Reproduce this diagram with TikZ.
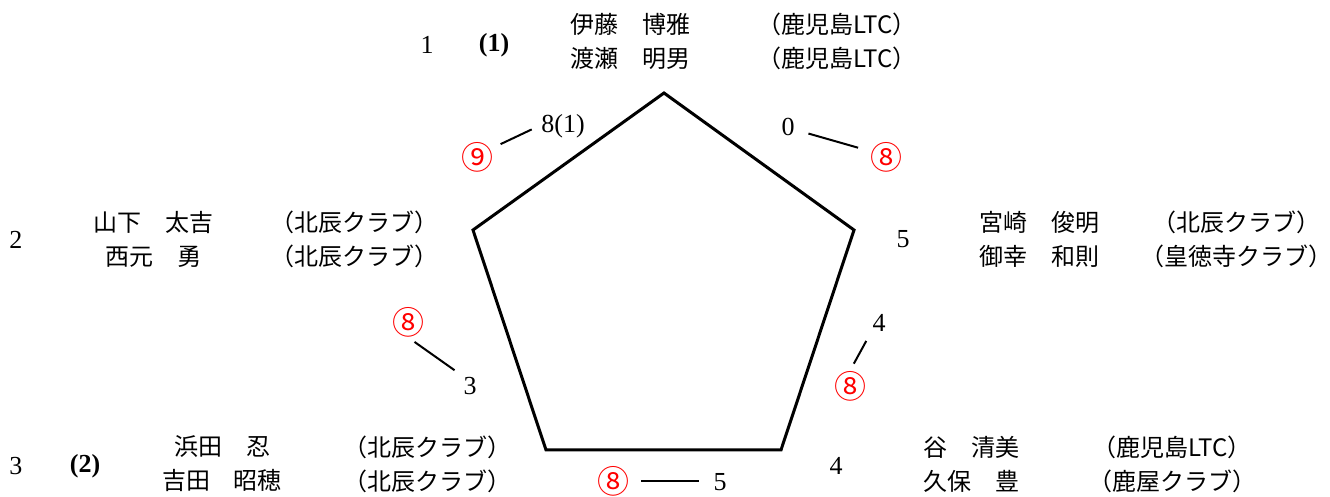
\documentclass[tikz,border=0pt]{standalone}
\usepackage{fontspec}
\setmainfont{Liberation Serif}
\newfontfamily\jpfont{Noto Sans CJK JP}
\tikzset{
  score/.style={font=\fontsize{13}{15}\selectfont, inner sep=1pt},
  seed/.style={font=\bfseries\fontsize{13}{15}\selectfont, inner sep=1pt},
  place/.style={text=red, font=\jpfont\fontsize{16}{18}\selectfont, inner sep=0pt},
  player/.style={font=\jpfont\fontsize{12}{17}\selectfont, align=center, inner sep=0pt},
  link/.style={line width=1pt, shorten >=4pt, shorten <=4pt},
}
\begin{document}
\begin{tikzpicture}[x=0.5pt,y=-0.5pt]
    \useasboundingbox (0,0) rectangle (1330,497);
    %% Pentagon
    \coordinate (p1) at (664,93);
    \coordinate (p2) at (473,230);
    \coordinate (p3) at (546,450);
    \coordinate (p4) at (781,450);
    \coordinate (p5) at (854,230);
    \draw[line width=1.5pt] (p1) -- (p5) -- (p4) -- (p3) -- (p2) -- cycle;
    %% Teams
    \node[score] (n1) at (427,45) {1};
    \node[score] (n2) at (16,240) {2};
    \node[score] (n3) at (16,466) {3};
    \node[seed] (d1) at (494,45) {(1)};
    \node[seed] (d2) at (85,466) {(2)};
    \node[player] (m1) at (630,41) {伊藤　博雅\\渡瀬　明男};
    \node[player] (c1) at (837,41) {（鹿児島LTC）\\（鹿児島LTC）};
    \node[player] (m2) at (153,239) {山下　太吉\\西元　勇};
    \node[player] (c2) at (354,239) {（北辰クラブ）\\（北辰クラブ）};
    \node[player] (m5) at (1039,239) {宮崎　俊明\\御幸　和則};
    \node[player] (c5) at (1236,239) {（北辰クラブ）\\（皇徳寺クラブ）};
    \node[player] (m3) at (222,464) {浜田　忍\\吉田　昭穂};
    \node[player] (c3) at (427,464) {（北辰クラブ）\\（北辰クラブ）};
    \node[player] (m4) at (971,464) {谷　清美\\久保　豊};
    \node[player] (c4) at (1172,464) {（鹿児島LTC）\\（鹿屋クラブ）};
    %% Scores
    \node[score] (s12) at (563,126) {8(1)};
    \node[score] (s15) at (788,127) {0};
    \node[score] (s51) at (903,239) {5};
    \node[score] (s54) at (879,323) {4};
    \node[score] (s23) at (470,386) {3};
    \node[score] (s34) at (720,482) {5};
    \node[score] (s43) at (836,466) {4};
    %% Places
    \node[place] (r12) at (477,157) {⑨};
    \node[place] (r15) at (886,157) {⑧};
    \node[place] (r54) at (850,386) {⑧};
    \node[place] (r23) at (408,322) {⑧};
    \node[place] (r34) at (613,481) {⑧};
    \draw[link] (r12.30) -- (s12.west);
    \draw[link, shorten >=6pt, shorten <=6pt] (s15.-20) -- (r15.160);
    \draw[link] (r54.north) -- (s54.south west);
    \draw[link] (r23.south) -- (s23.north west);
    \draw[link, shorten >=6pt, shorten <=6pt] (r34.east) -- (r34.east -| s34.west);
\end{tikzpicture}
\end{document}
